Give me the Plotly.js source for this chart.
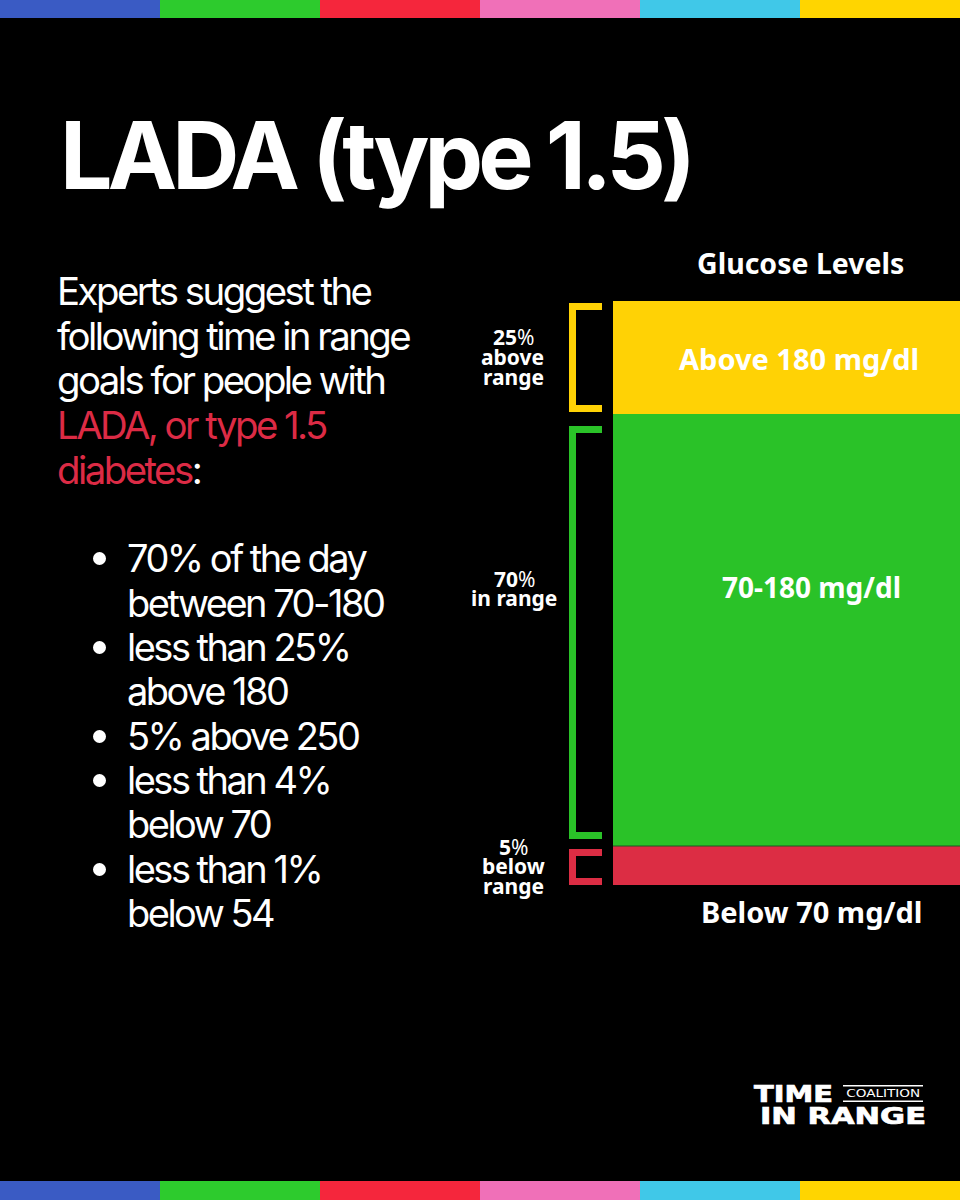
<!DOCTYPE html>
<html><head><meta charset="utf-8">
<script src="https://cdn.plot.ly/plotly-3.0.1.min.js"></script>
<style>
html,body{margin:0;padding:0;background:#000;}
text.annotation-text[style*="Inter"]{letter-spacing:-0.066em;}
text.annotation-text[style*="Inter"][style*="font-size: 38.4px"]{letter-spacing:-0.0665em;}
text.annotation-text[style*="Inter"][style*="font-size: 93px"]{letter-spacing:-0.053em;}
text.annotation-text[style*="DejaVu"][style*="font-size: 23px"]{stroke:#fff;stroke-width:0.7px;}
</style></head><body>
<div id="chart" style="width:960px;height:1200px"></div>
<script>
// Band shares of the glucose column as drawn, bottom to top
const bandNames = ["Below 70 mg/dl", "70-180 mg/dl", "Above 180 mg/dl"];
const bandHeights = [6.7, 74.0, 19.3];
const bandColors = ["#DC2D44", "#2AC228", "#FFD205"];
const stripeColors = ["#3A5BC4", "#2DCB2D", "#F5263C", "#F070B8", "#40C8E8", "#FFD500"];
const titleText = "LADA (type 1.5)";
const introLines = ["Experts suggest the", "following time in range", "goals for people with", "LADA, or type 1.5", "diabetes<span style=\"color:#FFFFFF\">:</span>"];
const bulletLines = ["70% of the day", "between 70-180", "less than 25%", "above 180", "5% above 250", "less than 4%", "below 70", "less than 1%", "below 54"];
const bulletStarts = [true, false, true, false, true, true, false, true, false];

const W = 960, H = 1200;
const px = x => x / W, py = y => 1 - y / H;
const RED = "#DC2B45", WHITE = "#FFFFFF";
const HEAD = "Inter, sans-serif", LABEL = "'Noto Sans', sans-serif", LOGO = "'DejaVu Sans', sans-serif";

const traces = bandNames.map((n, i) => ({
  type: "bar", x: ["Glucose"], y: [bandHeights[i]], name: n, width: [1],
  marker: {color: bandColors[i], line: {width: 0}}, hoverinfo: "name", showlegend: false
}));

const shapes = [];
const rect = (x0, y0, x1, y1, c) => shapes.push({type: "rect", xref: "paper", yref: "paper",
  x0: px(x0), x1: px(x1), y0: py(y0), y1: py(y1), fillcolor: c, line: {width: 0}, layer: "above"});
stripeColors.forEach((c, i) => {
  rect(i * 160, 0, (i + 1) * 160, 18, c);
  rect(i * 160, 1181, (i + 1) * 160, 1200, c);
});
const bracket = (top, bottom, c) => {
  rect(569, top, 576, bottom, c);
  rect(569, top, 602, top + 7, c);
  rect(569, bottom - 7, 602, bottom, c);
};
bracket(303, 412, bandColors[2]);
bracket(426, 839, bandColors[1]);
bracket(849, 885, bandColors[0]);
// thin seam between green and red bands
rect(613, 845.5, 960, 846.5, "#1b5a22");
// logo rules
rect(843, 1085, 923, 1086.5, WHITE);
rect(843, 1100.5, 923, 1102, WHITE);

const annotations = [];
const txt = (s, x, y, size, o = {}) => annotations.push({
  text: s, xref: "paper", yref: "paper", x: px(x), y: py(y), showarrow: false,
  xanchor: o.anchor || "left", yanchor: "middle", align: o.anchor === "center" ? "center" : "left",
  borderpad: 0, font: {family: o.family || HEAD, size: size, color: o.color || WHITE, weight: o.weight || 400}
});

txt(titleText, 59, 155, 93, {weight: 700});
const introY = [291, 336, 380, 425, 470];
introLines.forEach((l, i) => txt(l, 56, introY[i], 38.4, {color: i >= 3 ? RED : WHITE}));

const bulletY = [558, 603, 647, 691, 736, 780, 824, 869, 913];
bulletLines.forEach((l, i) => {
  txt(l, 126, bulletY[i], 38);
  if (bulletStarts[i]) shapes.push({type: "circle", xref: "paper", yref: "paper",
    x0: px(93), x1: px(106), y0: py(bulletY[i] - 6), y1: py(bulletY[i] + 7),
    fillcolor: WHITE, line: {width: 0}});
});

const label = {family: LABEL, anchor: "center", weight: 700};
txt("Glucose Levels", 800, 263, 28.5, label);
txt(bandNames[2], 799, 358, 29, label);
txt(bandNames[1], 811, 586.5, 28, label);
txt(bandNames[0], 811, 911.5, 29, label);

const side = [
  [513, 337, "<b>25</b>%"], [512, 357, "above"], [513, 377, "range"],
  [514, 579, "<b>70</b>%"], [514, 598, "in range"],
  [513, 847, "<b>5</b>%"], [513, 866, "below"], [513, 886, "range"]
];
side.forEach(([x, y, s]) => txt(s, x, y, 21, {family: LABEL, anchor: "center", weight: s.includes("%") ? 400 : 700}));

txt("TIME", 753, 1094, 23, {family: LOGO, weight: 700});
txt("IN RANGE", 759, 1115.5, 23, {family: LOGO, weight: 700});
txt("COALITION", 883, 1093.5, 10, {family: LOGO, anchor: "center", weight: 400});

const logoWidths = {"TIME": 79, "IN RANGE": 166, "COALITION": 74};

const layout = {
  width: W, height: H, margin: {l: 0, r: 0, t: 0, b: 0},
  paper_bgcolor: "#000", plot_bgcolor: "#000", barmode: "stack", bargap: 0,
  showlegend: false, shapes, annotations,
  xaxis: {domain: [px(613), 1], visible: false, fixedrange: true},
  yaxis: {domain: [py(885), py(301)], range: [0, 100], visible: false, fixedrange: true}
};
Plotly.newPlot("chart", traces, layout, {displayModeBar: false, staticPlot: true}).then(() => {
  document.querySelectorAll("text.annotation-text").forEach(t => {
    const w = logoWidths[t.textContent];
    if (w) {
      t.setAttribute("textLength", w);
      t.setAttribute("lengthAdjust", "spacingAndGlyphs");
    }
  });
});
</script></body></html>
